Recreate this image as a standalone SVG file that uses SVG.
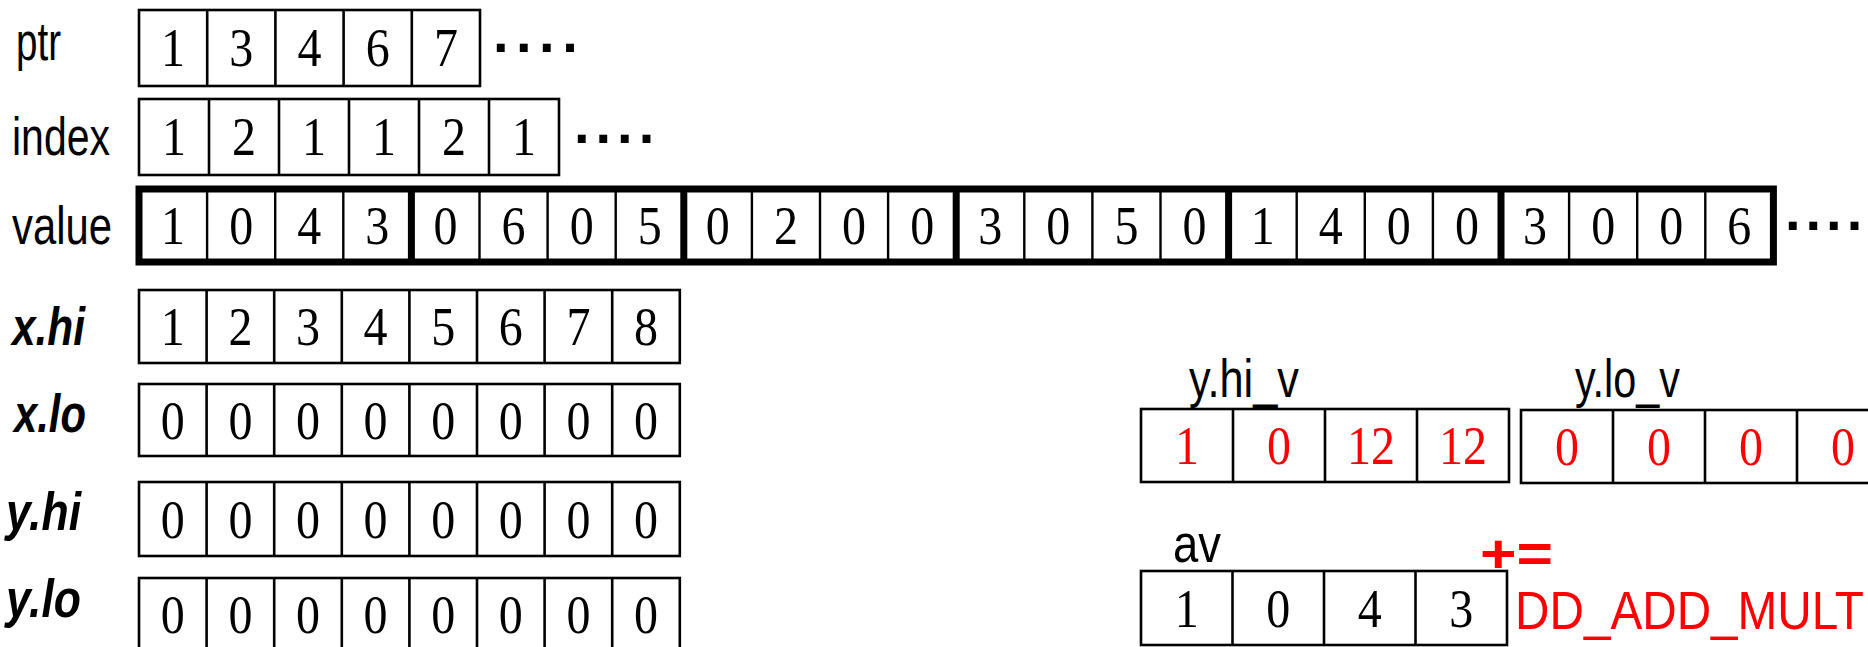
<svg xmlns="http://www.w3.org/2000/svg" width="1868" height="647" viewBox="0 0 1868 647">
  <style>
    .lbl { font-family: "Liberation Sans", Arial, sans-serif; font-size: 53px; fill: #000; }
    .bi { font-weight: bold; font-style: italic; }
    .d { font-family: "Liberation Serif", "Times New Roman", serif; font-size: 54px; text-anchor: middle; fill: #000; }
    .red { fill: #f00; }
    .box { fill: none; stroke: #000; stroke-width: 2.6; }
    .thin { stroke: #000; stroke-width: 2.4; }
    .thick { fill: none; stroke: #000; stroke-width: 7; }
    .dots { font-family: "Liberation Sans", Arial, sans-serif; font-weight: bold; font-size: 56px; fill: #000; }
  </style>
  <rect width="1868" height="647" fill="#fff"/>

  <!-- ptr array -->
  <g id="ptr">
    <text class="lbl" x="16" y="60" textLength="45" lengthAdjust="spacingAndGlyphs">ptr</text>
    <rect class="box" x="139" y="10" width="341" height="76"/>
    <path class="box" d="M207.2 10V86M275.4 10V86M343.6 10V86M411.8 10V86"/>
    <g class="d">
      <text x="173.1" y="66" textLength="24" lengthAdjust="spacingAndGlyphs">1</text>
      <text x="241.3" y="66" textLength="24" lengthAdjust="spacingAndGlyphs">3</text>
      <text x="309.5" y="66" textLength="24" lengthAdjust="spacingAndGlyphs">4</text>
      <text x="377.7" y="66" textLength="24" lengthAdjust="spacingAndGlyphs">6</text>
      <text x="445.9" y="66" textLength="24" lengthAdjust="spacingAndGlyphs">7</text>
    </g>
    <text class="dots" x="493" y="52" letter-spacing="7.5">....</text>
  </g>

  <!-- index array -->
  <g id="index">
    <text class="lbl" x="12" y="155" textLength="98" lengthAdjust="spacingAndGlyphs">index</text>
    <rect class="box" x="139" y="99" width="420" height="76"/>
    <path class="box" d="M209 99V175M279 99V175M349 99V175M419 99V175M489 99V175"/>
    <g class="d">
      <text x="174" y="155" textLength="24" lengthAdjust="spacingAndGlyphs">1</text>
      <text x="244" y="155" textLength="24" lengthAdjust="spacingAndGlyphs">2</text>
      <text x="314" y="155" textLength="24" lengthAdjust="spacingAndGlyphs">1</text>
      <text x="384" y="155" textLength="24" lengthAdjust="spacingAndGlyphs">1</text>
      <text x="454" y="155" textLength="24" lengthAdjust="spacingAndGlyphs">2</text>
      <text x="524" y="155" textLength="24" lengthAdjust="spacingAndGlyphs">1</text>
    </g>
    <text class="dots" x="574" y="143" letter-spacing="6">....</text>
  </g>

  <!-- value array: blocks of four entries -->
  <g id="value">
    <text class="lbl" x="12" y="244" textLength="100" lengthAdjust="spacingAndGlyphs">value</text>
    <path class="thin" d="M207.1 188V262M275.2 188V262M343.3 188V262M479.5 188V262M547.6 188V262M615.7 188V262M751.9 188V262M820 188V262M888.1 188V262M1024.3 188V262M1092.4 188V262M1160.5 188V262M1296.7 188V262M1364.8 188V262M1432.9 188V262M1569.1 188V262M1637.2 188V262M1705.3 188V262"/>
    <rect class="thick" x="139" y="189" width="1634.4" height="73"/>
    <path class="thick" d="M411.4 189V262M683.8 189V262M956.2 189V262M1228.6 189V262M1501 189V262"/>
    <g class="d">
      <text x="173.05" y="244" textLength="24" lengthAdjust="spacingAndGlyphs">1</text>
      <text x="241.15" y="244" textLength="24" lengthAdjust="spacingAndGlyphs">0</text>
      <text x="309.25" y="244" textLength="24" lengthAdjust="spacingAndGlyphs">4</text>
      <text x="377.35" y="244" textLength="24" lengthAdjust="spacingAndGlyphs">3</text>
      <text x="445.45" y="244" textLength="24" lengthAdjust="spacingAndGlyphs">0</text>
      <text x="513.55" y="244" textLength="24" lengthAdjust="spacingAndGlyphs">6</text>
      <text x="581.65" y="244" textLength="24" lengthAdjust="spacingAndGlyphs">0</text>
      <text x="649.75" y="244" textLength="24" lengthAdjust="spacingAndGlyphs">5</text>
      <text x="717.85" y="244" textLength="24" lengthAdjust="spacingAndGlyphs">0</text>
      <text x="785.95" y="244" textLength="24" lengthAdjust="spacingAndGlyphs">2</text>
      <text x="854.05" y="244" textLength="24" lengthAdjust="spacingAndGlyphs">0</text>
      <text x="922.15" y="244" textLength="24" lengthAdjust="spacingAndGlyphs">0</text>
      <text x="990.25" y="244" textLength="24" lengthAdjust="spacingAndGlyphs">3</text>
      <text x="1058.35" y="244" textLength="24" lengthAdjust="spacingAndGlyphs">0</text>
      <text x="1126.45" y="244" textLength="24" lengthAdjust="spacingAndGlyphs">5</text>
      <text x="1194.55" y="244" textLength="24" lengthAdjust="spacingAndGlyphs">0</text>
      <text x="1262.65" y="244" textLength="24" lengthAdjust="spacingAndGlyphs">1</text>
      <text x="1330.75" y="244" textLength="24" lengthAdjust="spacingAndGlyphs">4</text>
      <text x="1398.85" y="244" textLength="24" lengthAdjust="spacingAndGlyphs">0</text>
      <text x="1466.95" y="244" textLength="24" lengthAdjust="spacingAndGlyphs">0</text>
      <text x="1535.05" y="244" textLength="24" lengthAdjust="spacingAndGlyphs">3</text>
      <text x="1603.15" y="244" textLength="24" lengthAdjust="spacingAndGlyphs">0</text>
      <text x="1671.25" y="244" textLength="24" lengthAdjust="spacingAndGlyphs">0</text>
      <text x="1739.35" y="244" textLength="24" lengthAdjust="spacingAndGlyphs">6</text>
    </g>
    <text class="dots" x="1785" y="230" letter-spacing="5">....</text>
  </g>

  <!-- x.hi -->
  <g id="x-hi">
    <text class="lbl bi" x="12" y="345" textLength="73" lengthAdjust="spacingAndGlyphs">x.hi</text>
    <rect class="box" x="139" y="290" width="540.8" height="73"/>
    <path class="box" d="M206.6 290V363M274.2 290V363M341.8 290V363M409.4 290V363M477 290V363M544.6 290V363M612.2 290V363"/>
    <g class="d">
      <text x="172.8" y="345" textLength="24" lengthAdjust="spacingAndGlyphs">1</text>
      <text x="240.4" y="345" textLength="24" lengthAdjust="spacingAndGlyphs">2</text>
      <text x="308" y="345" textLength="24" lengthAdjust="spacingAndGlyphs">3</text>
      <text x="375.6" y="345" textLength="24" lengthAdjust="spacingAndGlyphs">4</text>
      <text x="443.2" y="345" textLength="24" lengthAdjust="spacingAndGlyphs">5</text>
      <text x="510.8" y="345" textLength="24" lengthAdjust="spacingAndGlyphs">6</text>
      <text x="578.4" y="345" textLength="24" lengthAdjust="spacingAndGlyphs">7</text>
      <text x="646" y="345" textLength="24" lengthAdjust="spacingAndGlyphs">8</text>
    </g>
  </g>

  <!-- x.lo -->
  <g id="x-lo">
    <text class="lbl bi" x="14" y="432" textLength="72" lengthAdjust="spacingAndGlyphs">x.lo</text>
    <rect class="box" x="139" y="384" width="540.8" height="72"/>
    <path class="box" d="M206.6 384V456M274.2 384V456M341.8 384V456M409.4 384V456M477 384V456M544.6 384V456M612.2 384V456"/>
    <g class="d">
      <text x="172.8" y="438.5" textLength="24" lengthAdjust="spacingAndGlyphs">0</text>
      <text x="240.4" y="438.5" textLength="24" lengthAdjust="spacingAndGlyphs">0</text>
      <text x="308" y="438.5" textLength="24" lengthAdjust="spacingAndGlyphs">0</text>
      <text x="375.6" y="438.5" textLength="24" lengthAdjust="spacingAndGlyphs">0</text>
      <text x="443.2" y="438.5" textLength="24" lengthAdjust="spacingAndGlyphs">0</text>
      <text x="510.8" y="438.5" textLength="24" lengthAdjust="spacingAndGlyphs">0</text>
      <text x="578.4" y="438.5" textLength="24" lengthAdjust="spacingAndGlyphs">0</text>
      <text x="646" y="438.5" textLength="24" lengthAdjust="spacingAndGlyphs">0</text>
    </g>
  </g>

  <!-- y.hi -->
  <g id="y-hi">
    <text class="lbl bi" x="6" y="530" textLength="75" lengthAdjust="spacingAndGlyphs">y.hi</text>
    <rect class="box" x="139" y="482" width="540.8" height="74"/>
    <path class="box" d="M206.6 482V556M274.2 482V556M341.8 482V556M409.4 482V556M477 482V556M544.6 482V556M612.2 482V556"/>
    <g class="d">
      <text x="172.8" y="537.5" textLength="24" lengthAdjust="spacingAndGlyphs">0</text>
      <text x="240.4" y="537.5" textLength="24" lengthAdjust="spacingAndGlyphs">0</text>
      <text x="308" y="537.5" textLength="24" lengthAdjust="spacingAndGlyphs">0</text>
      <text x="375.6" y="537.5" textLength="24" lengthAdjust="spacingAndGlyphs">0</text>
      <text x="443.2" y="537.5" textLength="24" lengthAdjust="spacingAndGlyphs">0</text>
      <text x="510.8" y="537.5" textLength="24" lengthAdjust="spacingAndGlyphs">0</text>
      <text x="578.4" y="537.5" textLength="24" lengthAdjust="spacingAndGlyphs">0</text>
      <text x="646" y="537.5" textLength="24" lengthAdjust="spacingAndGlyphs">0</text>
    </g>
  </g>

  <!-- y.lo -->
  <g id="y-lo">
    <text class="lbl bi" x="6" y="617" textLength="75" lengthAdjust="spacingAndGlyphs">y.lo</text>
    <rect class="box" x="139" y="578" width="540.8" height="74"/>
    <path class="box" d="M206.6 578V652M274.2 578V652M341.8 578V652M409.4 578V652M477 578V652M544.6 578V652M612.2 578V652"/>
    <g class="d">
      <text x="172.8" y="632.5" textLength="24" lengthAdjust="spacingAndGlyphs">0</text>
      <text x="240.4" y="632.5" textLength="24" lengthAdjust="spacingAndGlyphs">0</text>
      <text x="308" y="632.5" textLength="24" lengthAdjust="spacingAndGlyphs">0</text>
      <text x="375.6" y="632.5" textLength="24" lengthAdjust="spacingAndGlyphs">0</text>
      <text x="443.2" y="632.5" textLength="24" lengthAdjust="spacingAndGlyphs">0</text>
      <text x="510.8" y="632.5" textLength="24" lengthAdjust="spacingAndGlyphs">0</text>
      <text x="578.4" y="632.5" textLength="24" lengthAdjust="spacingAndGlyphs">0</text>
      <text x="646" y="632.5" textLength="24" lengthAdjust="spacingAndGlyphs">0</text>
    </g>
  </g>

  <!-- y.hi_v vector register -->
  <g id="y-hi-v">
    <text class="lbl" x="1189" y="397" textLength="110" lengthAdjust="spacingAndGlyphs">y.hi_v</text>
    <rect class="box" x="1141" y="409" width="368" height="73"/>
    <path class="box" d="M1233 409V482M1325 409V482M1417 409V482"/>
    <g class="d red">
      <text x="1187" y="464" textLength="24" lengthAdjust="spacingAndGlyphs">1</text>
      <text x="1279" y="464" textLength="24" lengthAdjust="spacingAndGlyphs">0</text>
      <text x="1371" y="464" textLength="48" lengthAdjust="spacingAndGlyphs">12</text>
      <text x="1463" y="464" textLength="48" lengthAdjust="spacingAndGlyphs">12</text>
    </g>
  </g>

  <!-- y.lo_v vector register -->
  <g id="y-lo-v">
    <text class="lbl" x="1575" y="397" textLength="105" lengthAdjust="spacingAndGlyphs">y.lo_v</text>
    <rect class="box" x="1521" y="410" width="368" height="73"/>
    <path class="box" d="M1613 410V483M1705 410V483M1797 410V483"/>
    <g class="d red">
      <text x="1567" y="465" textLength="24" lengthAdjust="spacingAndGlyphs">0</text>
      <text x="1659" y="465" textLength="24" lengthAdjust="spacingAndGlyphs">0</text>
      <text x="1751" y="465" textLength="24" lengthAdjust="spacingAndGlyphs">0</text>
      <text x="1843" y="465" textLength="24" lengthAdjust="spacingAndGlyphs">0</text>
    </g>
  </g>

  <!-- av vector register -->
  <g id="av">
    <text class="lbl" x="1173" y="562" textLength="48" lengthAdjust="spacingAndGlyphs">av</text>
    <rect class="box" x="1141" y="571" width="366" height="74"/>
    <path class="box" d="M1232.5 571V645M1324 571V645M1415.5 571V645"/>
    <g class="d">
      <text x="1186.75" y="626.5" textLength="24" lengthAdjust="spacingAndGlyphs">1</text>
      <text x="1278.25" y="626.5" textLength="24" lengthAdjust="spacingAndGlyphs">0</text>
      <text x="1369.75" y="626.5" textLength="24" lengthAdjust="spacingAndGlyphs">4</text>
      <text x="1461.25" y="626.5" textLength="24" lengthAdjust="spacingAndGlyphs">3</text>
    </g>
  </g>

  <!-- operation: condensed lettering via horizontal scale -->
  <g id="op">
    <text class="lbl red" x="1480" y="572" font-size="72" font-weight="bold" textLength="73" lengthAdjust="spacingAndGlyphs">+=</text>
    <text class="lbl red" transform="translate(1515 629) scale(0.9 1)" x="0" y="0" font-size="59">DD_ADD_MULT</text>
  </g>

  <g id="connectors"/>
</svg>
